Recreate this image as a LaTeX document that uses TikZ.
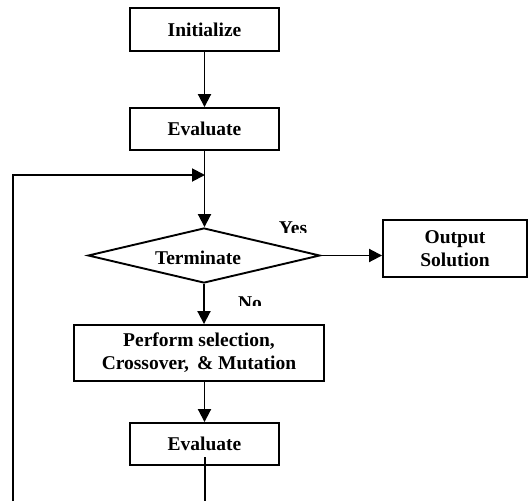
\documentclass[tikz,border=0pt]{standalone}
\usepackage{fontspec}
\setmainfont{Liberation Serif}
\usetikzlibrary{arrows.meta,shapes.geometric}
\begin{document}
\begin{tikzpicture}[x=1pt,y=-1pt,
  every node/.style={font=\bfseries\fontsize{19.5}{23}\selectfont, inner sep=0pt},
  box/.style={draw, line width=1.9pt, align=center},
  conn/.style={line width=1.9pt},
  arr/.style={conn, -{Triangle[length=13pt,width=13pt]}}]
\useasboundingbox (0,0) rectangle (530,501);
\node[box, minimum width=149pt, minimum height=43pt] (init) at (204.5,29.5) {Initialize};
\node[box, minimum width=149pt, minimum height=42pt] (eval1) at (204.5,129) {Evaluate};
\node[diamond, draw, line width=1.9pt, minimum width=232pt, minimum height=55pt] (term) at (204,255.5) {};
\node (termtext) at (198,258) {Terminate};
\node[box, minimum width=144pt, minimum height=57pt] (out) at (455,248.5) {Output\\Solution};
\node[box, minimum width=250pt, minimum height=56pt] (perf) at (199,353) {Perform selection,\\Crossover, \,\& Mutation};
\node[box, minimum width=149pt, minimum height=42pt] (eval2) at (204.5,444) {Evaluate};
\begin{scope}
  \clip (270,210) rectangle (320,232);
  \node (yes) at (293,228) {Yes};
\end{scope}
\begin{scope}
  \clip (230,285) rectangle (275,305.5);
  \node (no) at (250,303) {No};
\end{scope}
\coordinate (join) at (205,175);
\coordinate (e2tail) at (205,457);
\coordinate (bot) at (205,501);
\coordinate (lbot) at (13,501);
\coordinate (ltop) at (13,175);
\draw[arr] (init.south) -- (eval1.north);
\draw[arr] (eval1.south) -- (eval1.south |- term.north);
\draw[arr] (lbot) -- (ltop) -- (join);
\draw[arr] (term.east) -- (out.west |- term.east);
\draw[arr] (term.south) -- (term.south |- perf.north);
\draw[arr] (perf.south -| eval2.north) -- (eval2.north);
\draw[conn] (e2tail) -- (bot);
\end{tikzpicture}
\end{document}
